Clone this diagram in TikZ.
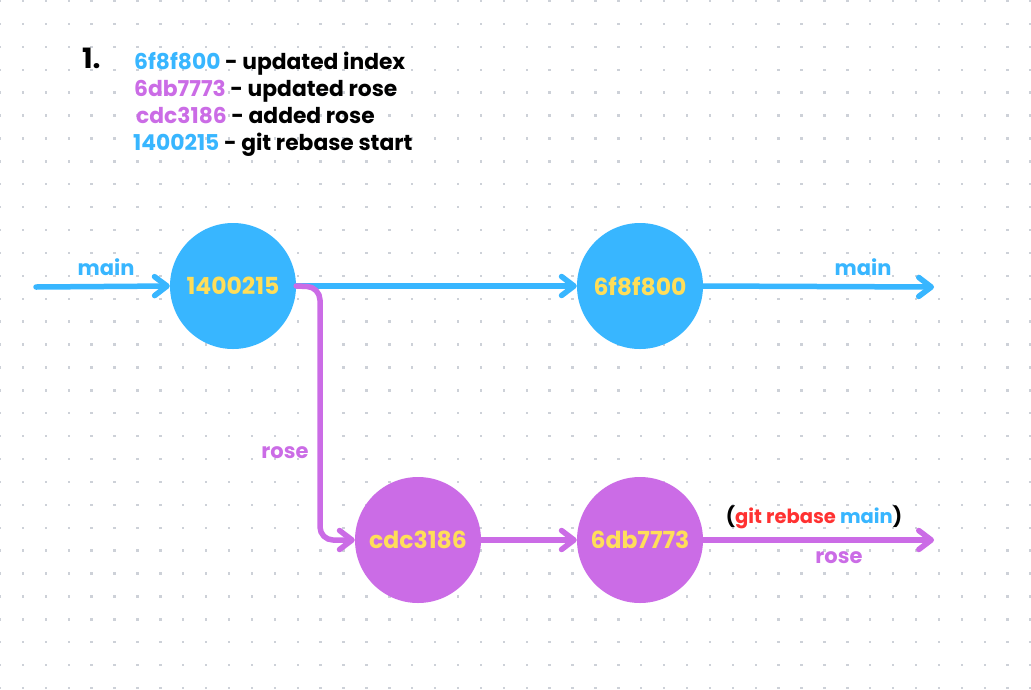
\documentclass[tikz,border=0pt]{standalone}
\usepackage{fontspec}
\setmainfont{Poppins}
\usetikzlibrary{arrows.meta}
\definecolor{cblue}{HTML}{38B6FF}
\definecolor{cpurple}{HTML}{CB6CE6}
\definecolor{cyellow}{HTML}{FFDE59}
\definecolor{cred}{HTML}{FF3131}
\definecolor{cdot}{HTML}{CDD1D8}
\tikzset{
  commit/.style={circle, minimum size=126pt, inner sep=0pt, text=cyellow, font=\fontsize{23.5}{24}\selectfont\bfseries},
  bluecommit/.style={commit, fill=cblue},
  rosecommit/.style={commit, fill=cpurple},
  conn/.style={line width=5.5pt, line cap=round, line join=round, -{Straight Barb[length=12.5pt,width=19pt,round]}},
  mainline/.style={conn, draw=cblue},
  roseline/.style={conn, draw=cpurple},
  lbl/.style={anchor=base, inner sep=0pt, font=\fontsize{21}{21}\selectfont\bfseries},
  listline/.style={anchor=base west, inner sep=0pt, font=\fontsize{21.8}{22}\selectfont\bfseries},
}
\begin{document}
\begin{tikzpicture}[x=1pt,y=-1pt]
\useasboundingbox (0,0) rectangle (1031,689);
\fill[white] (0,0) rectangle (1031,689);
% dotted grid
\foreach \i in {0,...,45}{
  \foreach \j in {0,...,30}{
    \fill[cdot] ({\i*22.9-1.2},{1+\j*22.9-1.2}) rectangle +(2.4,2.4);
  }
}
% legend
\node[anchor=base west, inner sep=0pt, font=\fontsize{28}{28}\selectfont\bfseries] (num) at (82,68) {1.};
\node[listline] (l1) at (134,69.5) {\textcolor{cblue}{6f8f800} - updated index};
\node[listline] (l2) at (134,96) {\textcolor{cpurple}{6db7773} - updated rose};
\node[listline] (l3) at (136,123) {\textcolor{cpurple}{cdc3186} - added rose};
\node[listline] (l4) at (133,150) {\textcolor{cblue}{1400215} - git rebase start};
% commits
\node[bluecommit] (c1) at (233,286) {1400215};
\node[bluecommit] (c2) at (640,286) {6f8f800};
\node[rosecommit] (c3) at (418,540) {cdc3186};
\node[rosecommit] (c4) at (640,540) {6db7773};
% coordinates
\coordinate (mstart) at (36,287);
\coordinate (mend) at (934,287);
\coordinate (rend) at (934,540);
\coordinate (b1) at (320,287);
\coordinate (b2) at (320,540);
% connectors
\draw[mainline] (mstart) -- (c1.west);
\draw[mainline] (c1.east) -- (c2.west);
\draw[mainline] (c2.east) -- (mend);
\draw[roseline, rounded corners=13pt] (c1.east) -- (b1) -- (b2) -- (c3.west);
\draw[roseline] (c3.east) -- (c4.west);
\draw[roseline] (c4.east) -- (rend);
% labels
\node[lbl, text=cblue] (lm1) at (106,275) {main};
\node[lbl, text=cblue] (lm2) at (863,275) {main};
\node[lbl, text=cpurple] (lr1) at (285,458) {rose};
\node[lbl, font=\fontsize{19.5}{20}\selectfont\bfseries] (lg) at (814,523) {(\textcolor{cred}{git rebase} \textcolor{cblue}{main})};
\node[lbl, text=cpurple] (lr2) at (839,563) {rose};
\end{tikzpicture}
\end{document}
